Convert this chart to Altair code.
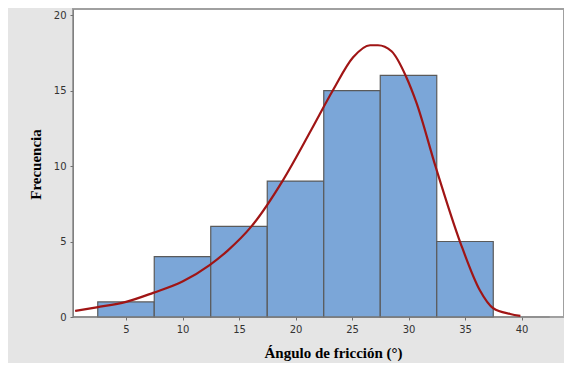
import altair as alt
import pandas as pd

# Histogram bins (friction angle, degrees) and frequencies
bin_start = [2.5, 7.5, 12.5, 17.5, 22.5, 27.5, 32.5]
bin_end = [7.5, 12.5, 17.5, 22.5, 27.5, 32.5, 37.5]
counts = [1, 4, 6, 9, 15, 16, 5]

# Fitted curve
curve_x = [0.5, 2.4, 5, 7.4, 10, 12.4, 14, 16.1, 18.9, 21.4, 23.3, 25.1, 26.6,
           27.3, 28.5, 29.8, 30.7, 32.4, 34.6, 36.3, 37.5, 39.0, 39.9]
curve_y = [0.40, 0.64, 1.0, 1.6, 2.35, 3.44, 4.4, 6.0, 9.07, 12.4, 15.0, 17.2, 18.0,
           18.0, 17.6, 15.9, 14.2, 9.95, 4.9, 1.79, 0.58, 0.2, 0.07]

x_ticks = [5, 10, 15, 20, 25, 30, 35, 40]
y_ticks = [0, 5, 10, 15, 20]

bars_df = pd.DataFrame({"start": bin_start, "end": bin_end, "count": counts})
curve_df = pd.DataFrame({"x": curve_x, "y": curve_y})

x_scale = alt.Scale(domain=[0.31, 43.76], nice=False, zero=False)
y_scale = alt.Scale(domain=[0, 20.4], nice=False)

label_font = "DejaVu Sans"
title_font = "Liberation Serif"

x_axis = alt.Axis(values=x_ticks, domain=False, grid=False, tickSize=3,
                  tickColor="#707070", labelFont=label_font, labelFontSize=10,
                  labelColor="#333333", labelPadding=4,
                  title="Ángulo de fricción  (°)", titleFont=title_font,
                  titleFontSize=15, titleFontWeight="bold", titleColor="#000000",
                  titleX=260, titleY=35, titleBaseline="middle", titleAnchor="start",
                  titleAlign="center")
y_axis = alt.Axis(values=y_ticks, domain=True, domainColor="#808080", grid=False,
                  tickSize=3, tickColor="#707070", labelFont=label_font,
                  labelFontSize=10, labelColor="#333333", labelPadding=4,
                  title="Frecuencia", titleFont=title_font, titleFontSize=15,
                  titleFontWeight="bold", titleColor="#000000",
                  titleX=-38, titleY=155, titleAngle=270, titleAlign="center",
                  titleBaseline="middle")

bars = alt.Chart(bars_df).mark_rect(
    fill="#7BA6D8", stroke="#5A5A5A", strokeWidth=1.2
).encode(
    x=alt.X("start:Q", scale=x_scale, axis=x_axis),
    x2="end:Q",
    y=alt.Y("count:Q", scale=y_scale, axis=y_axis),
    y2=alt.Y2(datum=0),
)

axis_line = alt.Chart(pd.DataFrame({"a": [0.31], "b": [42.5], "y": [0]})).mark_rule(
    color="#808080", strokeWidth=1.2
).encode(
    x=alt.X("a:Q", scale=x_scale),
    x2="b:Q",
    y=alt.Y("y:Q", scale=y_scale),
)

curve = alt.Chart(curve_df).mark_line(
    color="#A01515", strokeWidth=2.2, interpolate="monotone"
).encode(
    x=alt.X("x:Q", scale=x_scale),
    y=alt.Y("y:Q", scale=y_scale),
)

chart = alt.layer(bars, axis_line, curve).properties(
    width=491,
    height=308,
    autosize=alt.AutoSizeParams(type="none"),
    padding={"left": 65, "top": 1, "right": 0, "bottom": 46},
    background="#E5E5E5",
).configure_view(
    fill="#FFFFFF", stroke="#A0A0A0", strokeWidth=2
)

chart.save("out.html", embed_options={"renderer": "svg", "actions": False})
